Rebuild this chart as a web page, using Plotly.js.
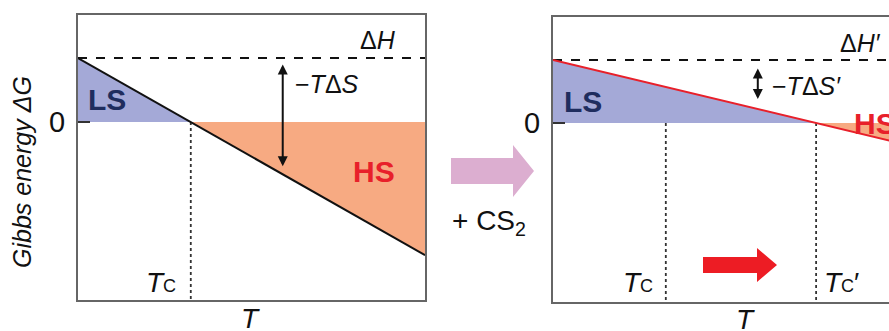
<!DOCTYPE html>
<html>
<head>
<meta charset="utf-8">
<script src="https://cdn.plot.ly/plotly-3.0.1.min.js"></script>
<style>html,body{margin:0;padding:0;background:#fff;}#chart{width:889px;height:331px;}</style>
</head>
<body>
<div id="chart"></div>
<script>
// ---- data (arbitrary units) ----
const T = [0, 10];                 // temperature extent
const G_before = [1.0, -2.08];     // ΔG = ΔH − TΔS (before CS2)
const G_after = [1.0, -0.32];      // ΔG' = ΔH' − TΔS' (after CS2)
const dH = [1.0, 1.0];             // ΔH and ΔH' level
const Tc = 3.25;                   // transition temperature before
const TcPrime = 7.58;              // transition temperature after
const T_arrow = 5.9;               // where −TΔS arrows are drawn
const yTicks = [0];
const yTickText = ['0'];

const FONT = 'Liberation Sans, Arial, sans-serif';
const W = 889, H = 331;
const px = (x) => x / W, py = (y) => 1 - y / H;

const LS_FILL = '#a4a9d7', HS_FILL = '#f7aa82';
const lineAt = (G, t) => G[0] + (G[1] - G[0]) * (t - T[0]) / (T[1] - T[0]);

const traces = [];
function panel(xa, ya, G, tcList, tcFill, lineColor) {
  traces.push({x: [T[0], T[0], tcFill], y: [0, G[0], 0], xaxis: xa, yaxis: ya,
    mode: 'none', fill: 'toself', fillcolor: LS_FILL, hoverinfo: 'skip'});
  traces.push({x: [tcFill, T[1], T[1]], y: [0, 0, G[1]], xaxis: xa, yaxis: ya,
    mode: 'none', fill: 'toself', fillcolor: HS_FILL, hoverinfo: 'skip'});
  traces.push({x: T, y: dH, xaxis: xa, yaxis: ya, mode: 'lines',
    line: {color: '#111', width: 2, dash: 'dash'}, hoverinfo: 'skip'});
  tcList.forEach(tc => traces.push({x: [tc, tc], y: [0, -5], xaxis: xa, yaxis: ya, mode: 'lines',
    line: {color: '#333', width: 1.8, dash: 'dot'}, hoverinfo: 'skip'}));
  traces.push({x: T, y: G, xaxis: xa, yaxis: ya, mode: 'lines',
    line: {color: lineColor, width: 2}, hoverinfo: 'skip'});
}
panel('x', 'y', G_before, [Tc], Tc, '#111');
panel('x2', 'y2', G_after, [Tc, TcPrime], TcPrime, '#e8202a');

const axisY = (dom, range) => ({domain: dom, range: range, showgrid: false, zeroline: false,
  showline: true, linecolor: '#666', linewidth: 2, tickvals: yTicks, ticktext: yTickText,
  ticks: 'inside', ticklen: 12, tickwidth: 2, tickcolor: '#333', ticklabelstandoff: 5,
  tickfont: {family: FONT, size: 29, color: '#111'}, fixedrange: true});
const axisX = (dom, range) => ({domain: dom, range: range, showgrid: false, zeroline: false,
  showline: true, linecolor: '#666', linewidth: 2, showticklabels: false, ticks: '',
  mirror: true, fixedrange: true});

const yL = axisY([py(300), py(15)], [-2.781, 1.672]); yL.mirror = true;
const yR = axisY([py(302), py(17)], [-2.841, 1.683]);

const ann = (x, y, text, size, extra) => Object.assign({xref: 'paper', yref: 'paper',
  x: px(x), y: py(y), text: text, showarrow: false, xanchor: 'center', yanchor: 'middle',
  font: {family: FONT, size: size, color: '#111'}}, extra || {});

const annotations = [
  ann(22, 172, '<i>Gibbs energy ΔG</i>', 25, {textangle: -90}),
  ann(378, 40, 'Δ<i>H</i>', 25),
  ann(327, 84, '−<i>T</i>Δ<i>S</i>', 25),
  ann(107, 99, '<b>LS</b>', 30, {font: {family: FONT, size: 30, color: '#1f2d5e'}}),
  ann(374, 171, '<b>HS</b>', 30, {font: {family: FONT, size: 30, color: '#e8202a'}}),
  ann(178, 282, '<i>T</i><span style="font-size:18px">C</span>', 28, {xanchor: 'right'}),
  ann(250, 318, '<i>T</i>', 28),
  ann(860, 43, 'Δ<i>H′</i>', 25),
  ann(806, 86, '−<i>T</i>Δ<i>S′</i>', 25),
  ann(583, 101, '<b>LS</b>', 30, {font: {family: FONT, size: 30, color: '#1f2d5e'}}),
  ann(852, 123, '<b>HS</b>', 30, {xanchor: 'left', font: {family: FONT, size: 30, color: '#e8202a'}}),
  ann(655, 282, '<i>T</i><span style="font-size:18px">C</span>', 28, {xanchor: 'right'}),
  ann(822, 282, '<i>T</i><span style="font-size:18px">C</span>′', 28, {xanchor: 'left'}),
  ann(745, 319, '<i>T</i>', 28),
  ann(489, 222, '+ CS<sub>2</sub>', 28),
  {xref: 'x', yref: 'y', axref: 'x', ayref: 'y', x: T_arrow, y: lineAt(G_before, T_arrow),
   ax: T_arrow, ay: dH[0], text: '', showarrow: true, arrowside: 'end+start', arrowhead: 2,
   arrowsize: 1, arrowwidth: 2, arrowcolor: '#111', standoff: 8, startstandoff: 5},
  {xref: 'x2', yref: 'y2', axref: 'x2', ayref: 'y2', x: T_arrow, y: lineAt(G_after, T_arrow),
   ax: T_arrow, ay: dH[0], text: '', showarrow: true, arrowside: 'end+start', arrowhead: 2,
   arrowsize: 1, arrowwidth: 2, arrowcolor: '#111', standoff: 10, startstandoff: 7}
];

function blockArrow(x0, xh, xt, by0, by1, hy0, hy1, color) {
  const ym = (hy0 + hy1) / 2;
  const pts = [[x0, by0], [xh, by0], [xh, hy0], [xt, ym], [xh, hy1], [xh, by1], [x0, by1]];
  return {type: 'path', xref: 'paper', yref: 'paper', fillcolor: color, line: {width: 0},
    path: 'M' + pts.map(p => px(p[0]) + ',' + py(p[1])).join(' L') + ' Z'};
}
const shapes = [
  blockArrow(451, 513, 534, 158, 184, 145, 197, '#dcaed0'),
  blockArrow(703, 757, 777, 257, 273, 248, 282, '#ed1c24')
];

const layout = {
  width: W, height: H, margin: {l: 0, r: 0, t: 0, b: 0},
  paper_bgcolor: '#fff', plot_bgcolor: '#fff', showlegend: false,
  xaxis: axisX([px(78), px(425)], [0, 10]),
  yaxis: yL,
  xaxis2: axisX([px(553), 1], [0, 9.68]),
  yaxis2: yR,
  annotations: annotations, shapes: shapes
};
yR.anchor = 'x2'; layout.xaxis2.anchor = 'y2';

Plotly.newPlot('chart', traces, layout, {displayModeBar: false, staticPlot: true});
</script>
</body>
</html>
